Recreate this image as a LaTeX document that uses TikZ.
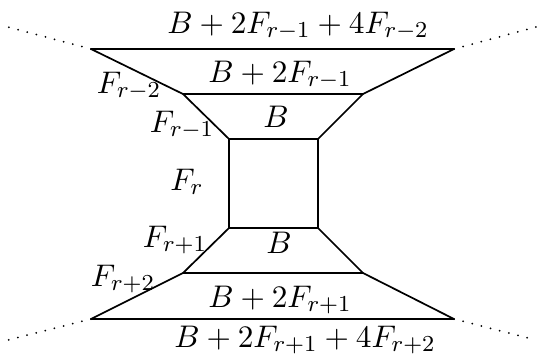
\documentclass[tikz,border=0pt]{standalone}
\usetikzlibrary{calc}

\begin{document}
\begin{tikzpicture}[x=0.35pt, y=-0.35pt, line width=0.6pt, line cap=round, line join=round,
    dotline/.style={line width=0.7pt, dash pattern=on 0pt off 3.3pt},
    lbl/.style={inner sep=0pt, anchor=base, font=\fontsize{11.2}{13}\selectfont}]
  \useasboundingbox (0,0) rectangle (538,354);
  % corners, outside in and top to bottom
  \coordinate (a1) at (91,49);   \coordinate (a2) at (454,49);
  \coordinate (b1) at (183,94);  \coordinate (b2) at (363,94);
  \coordinate (c1) at (229,139); \coordinate (c2) at (318,139);
  \coordinate (c3) at (229,228); \coordinate (c4) at (318,228);
  \coordinate (d1) at (183,273); \coordinate (d2) at (363,273);
  \coordinate (e1) at (91,319);  \coordinate (e2) at (454,319);
  \coordinate (p1) at (8,27);    \coordinate (p2) at (536,27);
  \coordinate (q1) at (8,340);   \coordinate (q2) at (536,340);
  % rungs and sides
  \draw (a1) -- (a2) (b1) -- (b2) (c1) -- (c2) (c3) -- (c4) (d1) -- (d2) (e1) -- (e2);
  \draw (a1) -- (b1) -- (c1) -- (c3) -- (d1) -- (e1);
  \draw (a2) -- (b2) -- (c2) -- (c4) -- (d2) -- (e2);
  % continuation
  \draw[dotline] (a1) -- (p1) (a2) -- (p2) (e1) -- (q1) (e2) -- (q2);
  % labels, placed on their baselines
  \node[lbl] (ta) at (298,33) {$B+2F_{r-1}+4F_{r-2}$};
  \node[lbl] (tb) at (280,82) {$B+2F_{r-1}$};
  \node[lbl] (tc) at (276,127) {$B$};
  \node[lbl] (bc) at (279,253) {$B$};
  \node[lbl] (bb) at (280,307) {$B+2F_{r+1}$};
  \node[lbl] (ba) at (305,347) {$B+2F_{r+1}+4F_{r+2}$};
  \node[lbl] (fm2) at (129,93) {$F_{r-2}$};
  \node[lbl] (fm1) at (182,132) {$F_{r-1}$};
  \node[lbl] (f0) at (187,190) {$F_r$};
  \node[lbl] (fp1) at (175,247) {$F_{r+1}$};
  \node[lbl] (fp2) at (123,286) {$F_{r+2}$};
\end{tikzpicture}
\end{document}
